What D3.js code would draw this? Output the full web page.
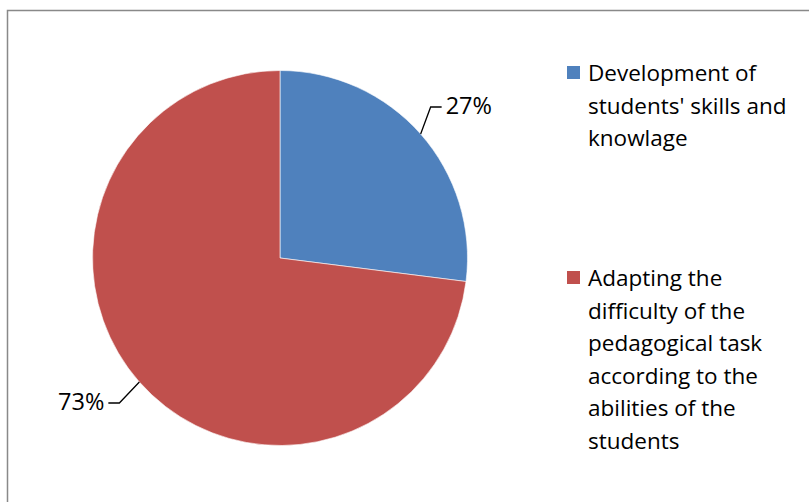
<!DOCTYPE html>
<html>
<head>
<meta charset="utf-8">
<script src="https://cdn.jsdelivr.net/npm/d3@7"></script>
<style>
    body { margin: 0; background: #fff; }
    svg { display: block; font-family: "Open Sans", "Liberation Sans", sans-serif; }
</style>
</head>
<body>
<div id="chart"></div>
<script>
(function () {

    const categories = [
        ["Development of", "students' skills and", "knowlage"],
        ["Adapting the", "difficulty of the", "pedagogical task", "according to the", "abilities of the", "students"]
    ];
    const values = [27, 73];
    const labels = ["27%", "73%"];
    const colors = ["#4F81BD", "#C0504D"];

    const width = 809, height = 502;
    const cx = 280, cy = 258, radius = 187.5;

    const svg = d3.select("#chart")
        .append("svg")
        .attr("width", width)
        .attr("height", height);

    // chart frame, runs off the right and bottom edges
    svg.append("rect")
        .attr("x", 7.5).attr("y", 10.5)
        .attr("width", 820).attr("height", 520)
        .attr("fill", "#fff")
        .attr("stroke", "#898989")
        .attr("stroke-width", 1.5);

    const pie = d3.pie().sort(null).value(d => d);
    const arcs = pie(values);
    const arc = d3.arc().innerRadius(0).outerRadius(radius);

    const g = svg.append("g").attr("transform", `translate(${cx},${cy})`);

    g.selectAll("path")
        .data(arcs)
        .enter()
        .append("path")
        .attr("d", arc)
        .attr("fill", (d, i) => colors[i])
        .attr("stroke", "#fff")
        .attr("stroke-width", 0.6);

    // leader lines + labels
    const onArc = d3.arc().innerRadius(radius).outerRadius(radius);
    arcs.forEach((d, i) => {
        const [x0, y0] = onArc.centroid(d);
        const right = x0 > 0;
        const ex = x0 + (right ? 10 : -20), ey = y0 + (right ? -27 : 21);
        const hx = ex + (right ? 11 : -11);
        g.append("polyline")
            .attr("points", [[x0, y0], [ex, ey], [hx, ey]].map(p => p.join(",")).join(" "))
            .attr("fill", "none")
            .attr("stroke", "#000")
            .attr("stroke-width", 1.3);
        g.append("text")
            .attr("x", hx + (right ? 4 : -4))
            .attr("y", ey + 7)
            .attr("text-anchor", right ? "start" : "end")
            .attr("font-size", 23.5)
            .attr("fill", "#000")
            .text(labels[i]);
    });

    // legend
    const legendTops = [81, 286];
    const lineH = 32.5;
    const legend = svg.append("g");
    categories.forEach((lines, i) => {
        const item = legend.append("g").attr("transform", `translate(567,${legendTops[i]})`);
        item.append("rect")
            .attr("x", 0).attr("y", -15)
            .attr("width", 13).attr("height", 13)
            .attr("fill", colors[i]);
        item.selectAll("text")
            .data(lines)
            .enter()
            .append("text")
            .attr("x", 21)
            .attr("y", (d, j) => j * lineH)
            .attr("font-size", 22.5)
            .attr("fill", "#000")
            .text(d => d);
    });

})()
</script>
</body>
</html>
